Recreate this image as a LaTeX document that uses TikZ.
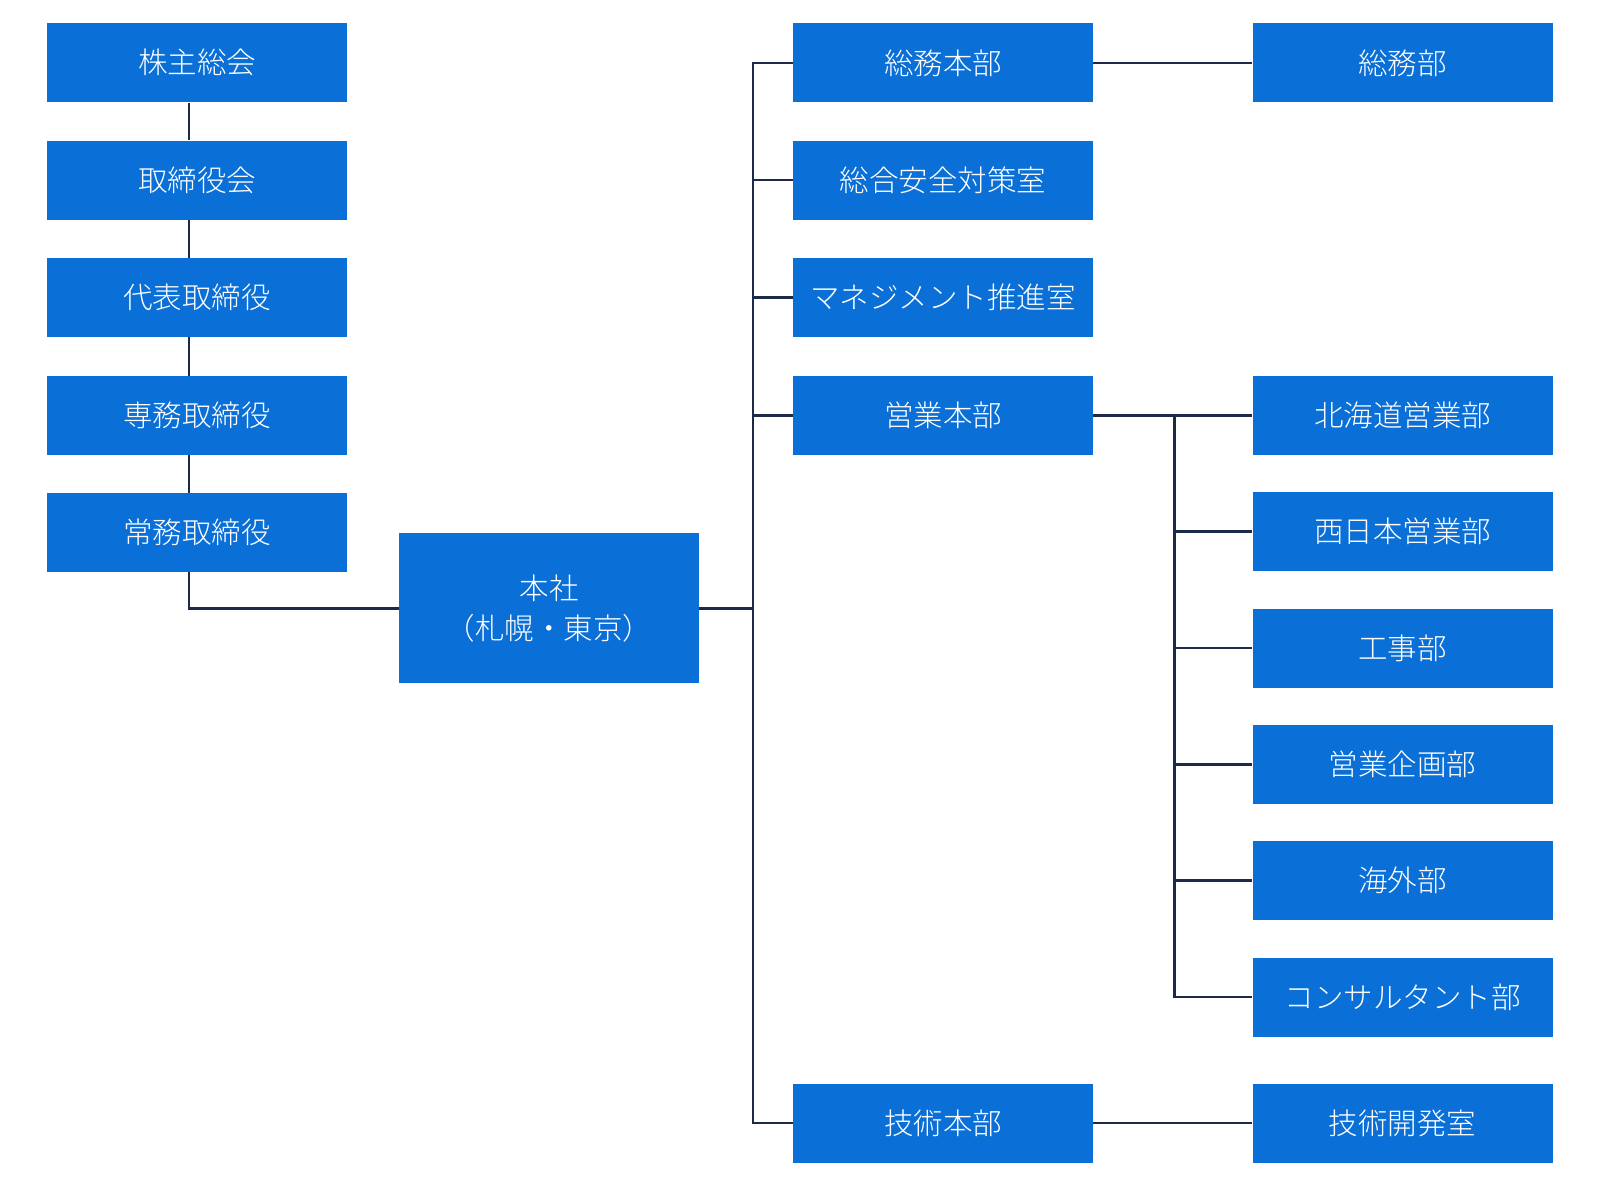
\documentclass[tikz,border=0pt]{standalone}
\usepackage{fontspec}
\newfontfamily\jpfont{Noto Sans CJK JP Light}
\definecolor{boxblue}{HTML}{0A6FD6}
\definecolor{linenavy}{HTML}{1C2A4A}
\tikzset{
	orgbox/.style={fill=boxblue,text=white,inner sep=0pt,minimum width=300pt,minimum height=79pt,align=center,font=\jpfont\fontsize{29.5}{40}\selectfont},
	conn/.style={draw=linenavy,line width=2.6pt}
}
\begin{document}
\begin{tikzpicture}[x=1pt,y=-1pt,line join=miter]
	\useasboundingbox (0,0) rectangle (1600,1200);
	\def\xa{197} \def\xb{943} \def\xc{1402.5}
	% left column
	\node[orgbox] (kabu) at (\xa,62.8) {株主総会};
	\node[orgbox] (torikai) at (\xa,180.1) {取締役会};
	\node[orgbox] (daihyo) at (\xa,297.4) {代表取締役};
	\node[orgbox] (senmu) at (\xa,415.3) {専務取締役};
	\node[orgbox] (jomu) at (\xa,532.7) {常務取締役};
	\node[orgbox,minimum height=150pt] (honsha) at (549,608.2) {本社\\（札幌・東京）};
	% middle column
	\node[orgbox] (somuhq) at (\xb,62.8) {総務本部};
	\node[orgbox] (anzen) at (\xb,180.1) {総合安全対策室};
	\node[orgbox] (manage) at (\xb,297.4) {マネジメント推進室};
	\node[orgbox] (eigyohq) at (\xb,415.3) {営業本部};
	\node[orgbox] (gijutsuhq) at (\xb,1123) {技術本部};
	% right column
	\node[orgbox] (somu) at (\xc,62.8) {総務部};
	\node[orgbox] (hokkaido) at (\xc,415.3) {北海道営業部};
	\node[orgbox] (nishi) at (\xc,531.6) {西日本営業部};
	\node[orgbox] (koji) at (\xc,648) {工事部};
	\node[orgbox] (kikaku) at (\xc,764.3) {営業企画部};
	\node[orgbox] (kaigai) at (\xc,880.6) {海外部};
	\node[orgbox] (consul) at (\xc,997) {コンサルタント部};
	\node[orgbox] (kaihatsu) at (\xc,1123) {技術開発室};
	\coordinate (trunk) at (753.1,0);
	\coordinate (salesbus) at (1174.5,0);
	% connectors
	\foreach \a/\b in {kabu/torikai,torikai/daihyo,daihyo/senmu,senmu/jomu}
		\draw[conn] ([xshift=-8pt]\a.south) -- ([xshift=-8pt]\b.north);
	\draw[conn] ([xshift=-8pt]jomu.south) |- (honsha.west);
	\draw[conn] (honsha.east) -- (honsha.east -| trunk);
	\draw[conn] (somuhq.west) -- (somuhq.west -| trunk) -- (gijutsuhq.west -| trunk) -- (gijutsuhq.west);
	\foreach \n in {anzen,manage,eigyohq}
		\draw[conn] (\n.west) -- (\n.west -| trunk);
	\draw[conn] (somuhq.east) -- (somu.west);
	\draw[conn] (gijutsuhq.east) -- (kaihatsu.west);
	\draw[conn] (eigyohq.east) -- (hokkaido.west);
	\draw[conn] (hokkaido.west -| salesbus) |- (consul.west);
	\foreach \n in {nishi,koji,kikaku,kaigai}
		\draw[conn] (\n.west -| salesbus) -- (\n.west);
\end{tikzpicture}
\end{document}
